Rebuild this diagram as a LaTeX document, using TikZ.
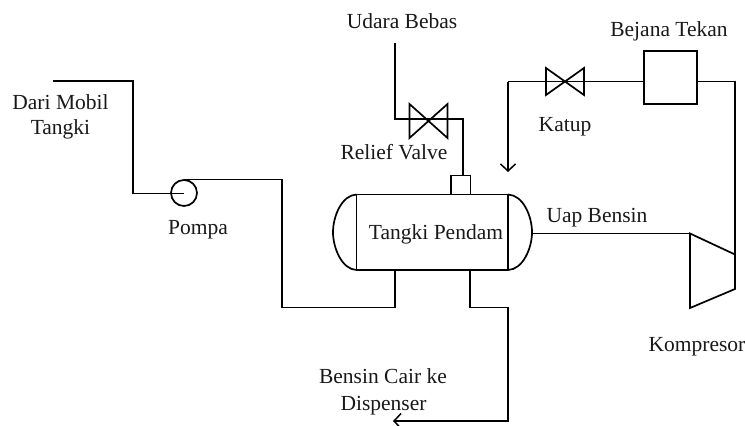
\documentclass[tikz,border=0pt]{standalone}
\usepackage{fontspec}
\setmainfont{Liberation Serif}
\usetikzlibrary{arrows.meta}
\tikzset{
  x=1pt,y=-1pt,
  pipe/.style={draw=black,line width=1.7pt,line join=miter},
  flow/.style={pipe,-{Straight Barb[length=7pt,width=15pt,line width=1.5pt]}},
  lbl/.style={font=\fontsize{21.5}{24}\selectfont,text=black!90,inner sep=0pt,anchor=base},
  boxn/.style={draw=black,line width=1.8pt,minimum width=#1,inner sep=0pt,outer sep=0pt},
}
\begin{document}
\begin{tikzpicture}
\useasboundingbox (0,0) rectangle (745,426);
% tank
\node[boxn=151.5pt,minimum height=75.5pt] (tank) at (432.25,232.25) {};
\draw[pipe] (tank.north west) .. controls (342,195) and (333,216) .. (333,232.25) .. controls (333,248) and (342,269.5) .. (tank.south west);
\draw[pipe] (tank.north east) .. controls (523,195) and (532,216) .. (532,232.25) .. controls (532,248) and (523,269.5) .. (tank.south east);
\node[lbl] (tanklbl) at (436,239) {Tangki Pendam};
% stub
\node[boxn=19.5pt,minimum height=19pt] (stub) at (460.75,185) {};
% coordinates
\coordinate (uaptop) at (395,43);
\coordinate (rvl) at (395,119);
\coordinate (rvr) at (463,119);
\coordinate (stubt) at (463,175.5);
\coordinate (kv) at (565,81.5);
\coordinate (kvl) at (508,81.5);
\coordinate (ret) at (508,172);
\coordinate (vr) at (735,81.5);
\coordinate (k1) at (690,233.5);
\coordinate (k2) at (735,254.5);
\coordinate (k3) at (735,289);
\coordinate (k4) at (690,308);
\coordinate (tr) at (532,233.5);
\coordinate (in0) at (53,81);
\coordinate (in1) at (133,81);
\coordinate (in2) at (133,193.5);
\coordinate (pin) at (184,193.5);
\coordinate (pout) at (184,179.5);
\coordinate (p1) at (282,179.5);
\coordinate (p2) at (282,307.5);
\coordinate (p3) at (395,307.5);
\coordinate (t1) at (395,270);
\coordinate (t2) at (470,270);
\coordinate (b1) at (470,307.5);
\coordinate (b2) at (508,307.5);
\coordinate (b3) at (508,421);
\coordinate (b4) at (393,421);
% relief valve
\draw[pipe] (409.5,104) -- (447.5,138) -- (447.5,104) -- (409.5,138) -- cycle;
\draw[pipe] (uaptop) -- (rvl) -- (rvr) -- (stubt);
% katup
\draw[pipe] (546,68) -- (584,95) -- (584,68) -- (546,95) -- cycle;
\node[boxn=53pt,minimum height=53pt] (vessel) at (670.5,77.5) {};
\draw[flow] (kvl) -- (ret);
\draw[pipe] (kvl) -- (vessel.west |- kv);
\draw[pipe] (vessel.east |- kv) -- (vr) -- (k2);
% compressor
\draw[pipe] (k1) -- (k2) -- (k3) -- (k4) -- cycle;
\draw[pipe] (tr) -- (k1);
% pump
\node[draw=black,line width=1.7pt,circle,minimum size=26pt,inner sep=0pt] (pump) at (184,193) {};
\draw[pipe] (in0) -- (in1) -- (in2) -- (pin);
\draw[pipe] (pout) -- (p1) -- (p2) -- (p3) -- (t1);
\draw[flow] (t2) -- (b1) -- (b2) -- (b3) -- (b4);
% labels
\node[lbl] (l1) at (402,28) {Udara Bebas};
\node[lbl] (l2) at (669,36) {Bejana Tekan};
\node[lbl] (l3) at (60.5,109) {Dari Mobil};
\node[lbl] (l4) at (60.5,134) {Tangki};
\node[lbl] (l5) at (198,234) {Pompa};
\node[lbl] (l6) at (394,159) {Relief Valve};
\node[lbl] (l7) at (565,131) {Katup};
\node[lbl] (l8) at (597,222) {Uap Bensin};
\node[lbl] (l9) at (697,351) {Kompresor};
\node[lbl] (l10) at (383,383) {Bensin Cair ke};
\node[lbl] (l11) at (383.5,410) {Dispenser};
\end{tikzpicture}
\end{document}
